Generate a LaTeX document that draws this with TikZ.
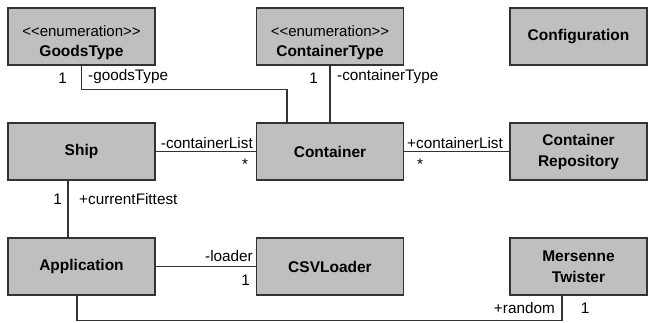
\documentclass[tikz,border=0pt]{standalone}
\usepackage{fontspec}
\setmainfont{Liberation Sans}
\newcommand\stereotxt{\fontsize{15}{20}\selectfont\mdseries}
\begin{document}
\begin{tikzpicture}[x=1pt,y=-1pt,
  cls/.style={draw=black!80,line width=1.3pt,fill=black!25,minimum height=57pt,inner sep=2pt,align=center,font=\fontsize{15.5}{21}\selectfont\bfseries},
  enumcls/.style={cls,font=\fontsize{15.5}{20}\selectfont\bfseries,text height=43pt,text depth=4pt},
  lbl/.style={inner sep=0pt,font=\fontsize{15.3}{17}\selectfont},
  conn/.style={draw=black!80,line width=1.3pt}]
\useasboundingbox (0,0) rectangle (652,322);
\node[enumcls,minimum width=147pt] (gt) at (81.5,36.5) {{\stereotxt <{}<enumeration>{}>}\\GoodsType};
\node[enumcls,minimum width=147pt] (ctt) at (330,36.5) {{\stereotxt <{}<enumeration>{}>}\\ContainerType};
\node[cls,minimum width=137pt] (cfg) at (578.5,36.5) {Configuration};
\node[cls,minimum width=147pt] (ship) at (81.5,151.5) {Ship};
\node[cls,minimum width=147pt] (cont) at (330,151.5) {Container};
\node[cls,minimum width=137pt] (rep) at (578.5,151.5) {Container\\Repository};
\node[cls,minimum width=147pt] (app) at (81.5,266.5) {Application};
\node[cls,minimum width=147pt] (csv) at (330,266.5) {CSVLoader};
\node[cls,minimum width=137pt] (mt) at (578.5,266.5) {Mersenne\\Twister};
% connectors
\draw[conn] (gt.south) -- ++(0,24) -| ([xshift=-43pt]cont.north);
\draw[conn] (ctt.south) -- (cont.north);
\draw[conn] (ship.east) -- (cont.west);
\draw[conn] (cont.east) -- (rep.west);
\draw[conn] (ship.south) ++(-13.5,0) coordinate (s1) -- (s1 |- app.north);
\draw[conn] (app.east) -- (csv.west);
\draw[conn] ([xshift=-4.5pt]app.south) -- ++(0,25) -| ([xshift=-16.5pt]mt.south);
% labels
\node[lbl,anchor=east] (l1) at (67,78) {1};
\node[lbl,anchor=west] (l2) at (88,77) {-goodsType};
\node[lbl,anchor=east] (l3) at (318,78) {1};
\node[lbl,anchor=west] (l4) at (337,77) {-containerType};
\node[lbl,anchor=east] (l5) at (253,143) {-containerList};
\node[lbl] (l6) at (245,164) {*};
\node[lbl,anchor=west] (l7) at (407,143) {+containerList};
\node[lbl] (l8) at (420,164) {*};
\node[lbl,anchor=east] (l9) at (62,199) {1};
\node[lbl,anchor=west] (l10) at (79,199) {+currentFittest};
\node[lbl,anchor=east] (l11) at (253,256) {-loader};
\node[lbl,anchor=east] (l12) at (250,280) {1};
\node[lbl,anchor=east] (l13) at (555,308) {+random};
\node[lbl] (l14) at (585,308) {1};
\end{tikzpicture}
\end{document}
